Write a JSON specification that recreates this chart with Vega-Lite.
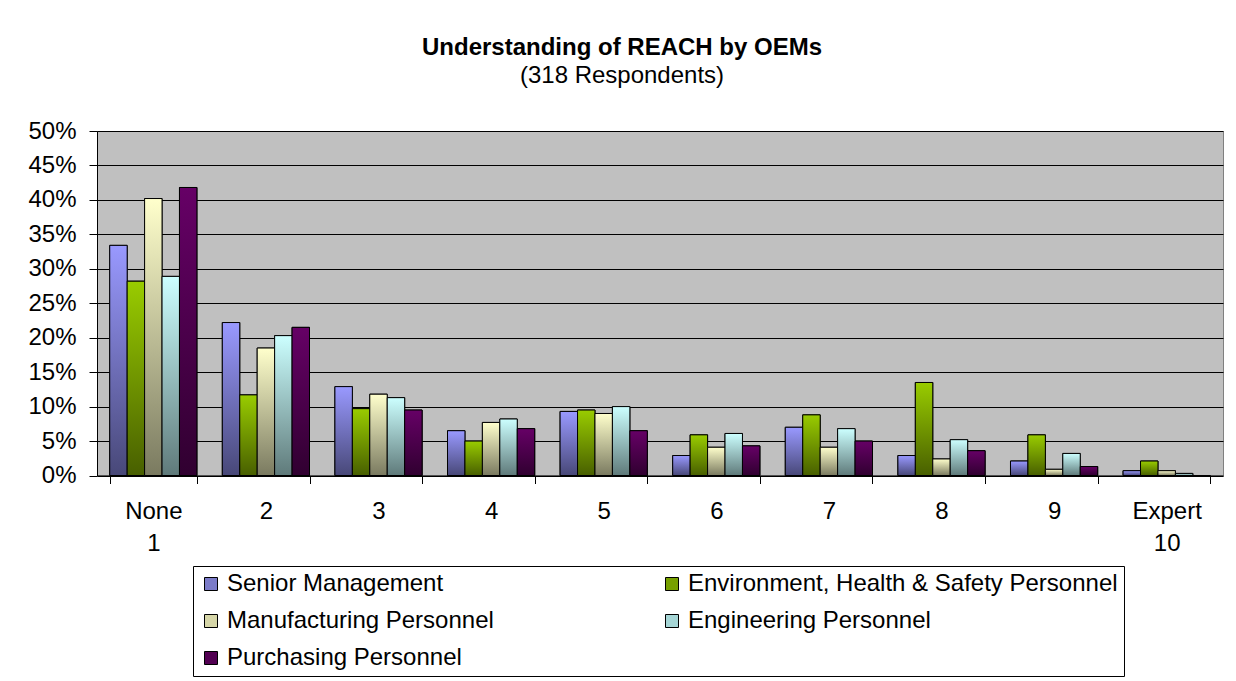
{
  "$schema": "https://vega.github.io/schema/vega-lite/v6.json",
  "width": 1126,
  "height": 344.5,
  "autosize": {"type": "none"},
  "padding": {"left": 97, "top": 131, "right": 13, "bottom": 205.5},
  "background": "white",
  "config": {
    "font": "Liberation Sans",
    "view": {"fill": "#C0C0C0", "stroke": "#808080", "strokeWidth": 1}
  },
  "title": {
    "text": "Understanding of REACH by OEMs",
    "subtitle": "(318 Respondents)",
    "font": "Liberation Sans",
    "fontSize": 24,
    "fontWeight": "bold",
    "color": "black",
    "subtitleFont": "Liberation Sans",
    "subtitleFontSize": 24,
    "subtitleColor": "black",
    "subtitlePadding": 4,
    "anchor": "middle",
    "dx": -38,
    "offset": 31
  },
  "data": {
    "values": [
      {"level": "1", "group": "Senior Management", "pct": 33.4},
      {"level": "1", "group": "Environment, Health & Safety Personnel", "pct": 28.2},
      {"level": "1", "group": "Manufacturing Personnel", "pct": 40.2},
      {"level": "1", "group": "Engineering Personnel", "pct": 28.9},
      {"level": "1", "group": "Purchasing Personnel", "pct": 41.8},
      {"level": "2", "group": "Senior Management", "pct": 22.2},
      {"level": "2", "group": "Environment, Health & Safety Personnel", "pct": 11.7},
      {"level": "2", "group": "Manufacturing Personnel", "pct": 18.5},
      {"level": "2", "group": "Engineering Personnel", "pct": 20.3},
      {"level": "2", "group": "Purchasing Personnel", "pct": 21.5},
      {"level": "3", "group": "Senior Management", "pct": 12.9},
      {"level": "3", "group": "Environment, Health & Safety Personnel", "pct": 9.7},
      {"level": "3", "group": "Manufacturing Personnel", "pct": 11.8},
      {"level": "3", "group": "Engineering Personnel", "pct": 11.3},
      {"level": "3", "group": "Purchasing Personnel", "pct": 9.5},
      {"level": "4", "group": "Senior Management", "pct": 6.5},
      {"level": "4", "group": "Environment, Health & Safety Personnel", "pct": 5.0},
      {"level": "4", "group": "Manufacturing Personnel", "pct": 7.7},
      {"level": "4", "group": "Engineering Personnel", "pct": 8.2},
      {"level": "4", "group": "Purchasing Personnel", "pct": 6.8},
      {"level": "5", "group": "Senior Management", "pct": 9.3},
      {"level": "5", "group": "Environment, Health & Safety Personnel", "pct": 9.5},
      {"level": "5", "group": "Manufacturing Personnel", "pct": 9.0},
      {"level": "5", "group": "Engineering Personnel", "pct": 10.0},
      {"level": "5", "group": "Purchasing Personnel", "pct": 6.5},
      {"level": "6", "group": "Senior Management", "pct": 2.9},
      {"level": "6", "group": "Environment, Health & Safety Personnel", "pct": 5.9},
      {"level": "6", "group": "Manufacturing Personnel", "pct": 4.1},
      {"level": "6", "group": "Engineering Personnel", "pct": 6.1},
      {"level": "6", "group": "Purchasing Personnel", "pct": 4.3},
      {"level": "7", "group": "Senior Management", "pct": 7.0},
      {"level": "7", "group": "Environment, Health & Safety Personnel", "pct": 8.8},
      {"level": "7", "group": "Manufacturing Personnel", "pct": 4.1},
      {"level": "7", "group": "Engineering Personnel", "pct": 6.8},
      {"level": "7", "group": "Purchasing Personnel", "pct": 5.0},
      {"level": "8", "group": "Senior Management", "pct": 2.9},
      {"level": "8", "group": "Environment, Health & Safety Personnel", "pct": 13.5},
      {"level": "8", "group": "Manufacturing Personnel", "pct": 2.4},
      {"level": "8", "group": "Engineering Personnel", "pct": 5.2},
      {"level": "8", "group": "Purchasing Personnel", "pct": 3.6},
      {"level": "9", "group": "Senior Management", "pct": 2.1},
      {"level": "9", "group": "Environment, Health & Safety Personnel", "pct": 5.9},
      {"level": "9", "group": "Manufacturing Personnel", "pct": 0.9},
      {"level": "9", "group": "Engineering Personnel", "pct": 3.2},
      {"level": "9", "group": "Purchasing Personnel", "pct": 1.3},
      {"level": "10", "group": "Senior Management", "pct": 0.7},
      {"level": "10", "group": "Environment, Health & Safety Personnel", "pct": 2.1},
      {"level": "10", "group": "Manufacturing Personnel", "pct": 0.7},
      {"level": "10", "group": "Engineering Personnel", "pct": 0.3},
      {"level": "10", "group": "Purchasing Personnel", "pct": 0}
    ]
  },
  "encoding": {
    "x": {
      "field": "level",
      "type": "nominal",
      "sort": ["1", "2", "3", "4", "5", "6", "7", "8", "9", "10"],
      "scale": {"paddingInner": 0.2256, "paddingOuter": 0.113},
      "axis": {
        "title": null,
        "labelAngle": 0,
        "labelFontSize": 24,
        "labelColor": "black",
        "labelLineHeight": 32,
        "labelPadding": 16,
        "labelExpr": "datum.value == '1' ? ['None', '1'] : datum.value == '10' ? ['Expert', '10'] : datum.value",
        "tickBand": "extent",
        "tickSize": 8,
        "tickColor": "black",
        "domainColor": "black",
        "grid": false
      }
    },
    "xOffset": {
      "field": "group",
      "type": "nominal",
      "scale": {
        "domain": ["Senior Management", "Environment, Health & Safety Personnel", "Manufacturing Personnel", "Engineering Personnel", "Purchasing Personnel"],
        "paddingInner": 0,
        "paddingOuter": 0
      }
    },
    "y": {
      "field": "pct",
      "type": "quantitative",
      "scale": {"domain": [0, 50], "nice": false},
      "axis": {
        "title": null,
        "values": [0, 5, 10, 15, 20, 25, 30, 35, 40, 45, 50],
        "labelExpr": "datum.value + '%'",
        "labelFontSize": 24,
        "labelColor": "black",
        "labelPadding": 13,
        "tickSize": 8,
        "tickColor": "black",
        "domainColor": "black",
        "gridColor": "black",
        "gridOpacity": 1,
        "gridWidth": 1
      }
    }
  },
  "layer": [
    {
      "mark": {"type": "bar", "stroke": "black", "strokeWidth": 1},
      "encoding": {
        "fill": {
          "field": "group",
          "type": "nominal",
          "scale": {
            "domain": ["Senior Management", "Environment, Health & Safety Personnel", "Manufacturing Personnel", "Engineering Personnel", "Purchasing Personnel"],
            "range": ["#7B7BC8", "#77A000", "#D6D6A8", "#A6D6D6", "#520052"]
          },
          "legend": {
            "title": null,
            "orient": "none",
            "direction": "horizontal",
            "legendX": 96,
            "legendY": 435,
            "columns": 2,
            "columnPadding": 166,
            "rowPadding": 13,
            "padding": 6,
            "fillColor": "white",
            "strokeColor": "black",
            "symbolType": "square",
            "symbolSize": 169,
            "symbolStrokeColor": "black",
            "symbolStrokeWidth": 1,
            "labelFontSize": 24,
            "labelColor": "black",
            "labelOffset": 4,
            "labelLimit": 600
          }
        }
      }
    },
    {
      "transform": [{"filter": "datum.group == 'Senior Management'"}],
      "mark": {"type": "bar", "stroke": "black", "strokeWidth": 1,
        "fill": {"gradient": "linear", "x1": 0, "y1": 0, "x2": 0, "y2": 1, "stops": [{"offset": 0, "color": "#9999FF"}, {"offset": 1, "color": "#484878"}]}}
    },
    {
      "transform": [{"filter": "datum.group == 'Environment, Health & Safety Personnel'"}],
      "mark": {"type": "bar", "stroke": "black", "strokeWidth": 1,
        "fill": {"gradient": "linear", "x1": 0, "y1": 0, "x2": 0, "y2": 1, "stops": [{"offset": 0, "color": "#99CC00"}, {"offset": 1, "color": "#485F00"}]}}
    },
    {
      "transform": [{"filter": "datum.group == 'Manufacturing Personnel'"}],
      "mark": {"type": "bar", "stroke": "black", "strokeWidth": 1,
        "fill": {"gradient": "linear", "x1": 0, "y1": 0, "x2": 0, "y2": 1, "stops": [{"offset": 0, "color": "#FFFFCC"}, {"offset": 1, "color": "#7A7A60"}]}}
    },
    {
      "transform": [{"filter": "datum.group == 'Engineering Personnel'"}],
      "mark": {"type": "bar", "stroke": "black", "strokeWidth": 1,
        "fill": {"gradient": "linear", "x1": 0, "y1": 0, "x2": 0, "y2": 1, "stops": [{"offset": 0, "color": "#CCFFFF"}, {"offset": 1, "color": "#5F7A7A"}]}}
    },
    {
      "transform": [{"filter": "datum.group == 'Purchasing Personnel'"}],
      "mark": {"type": "bar", "stroke": "black", "strokeWidth": 1,
        "fill": {"gradient": "linear", "x1": 0, "y1": 0, "x2": 0, "y2": 1, "stops": [{"offset": 0, "color": "#660066"}, {"offset": 1, "color": "#300030"}]}}
    }
  ]
}
